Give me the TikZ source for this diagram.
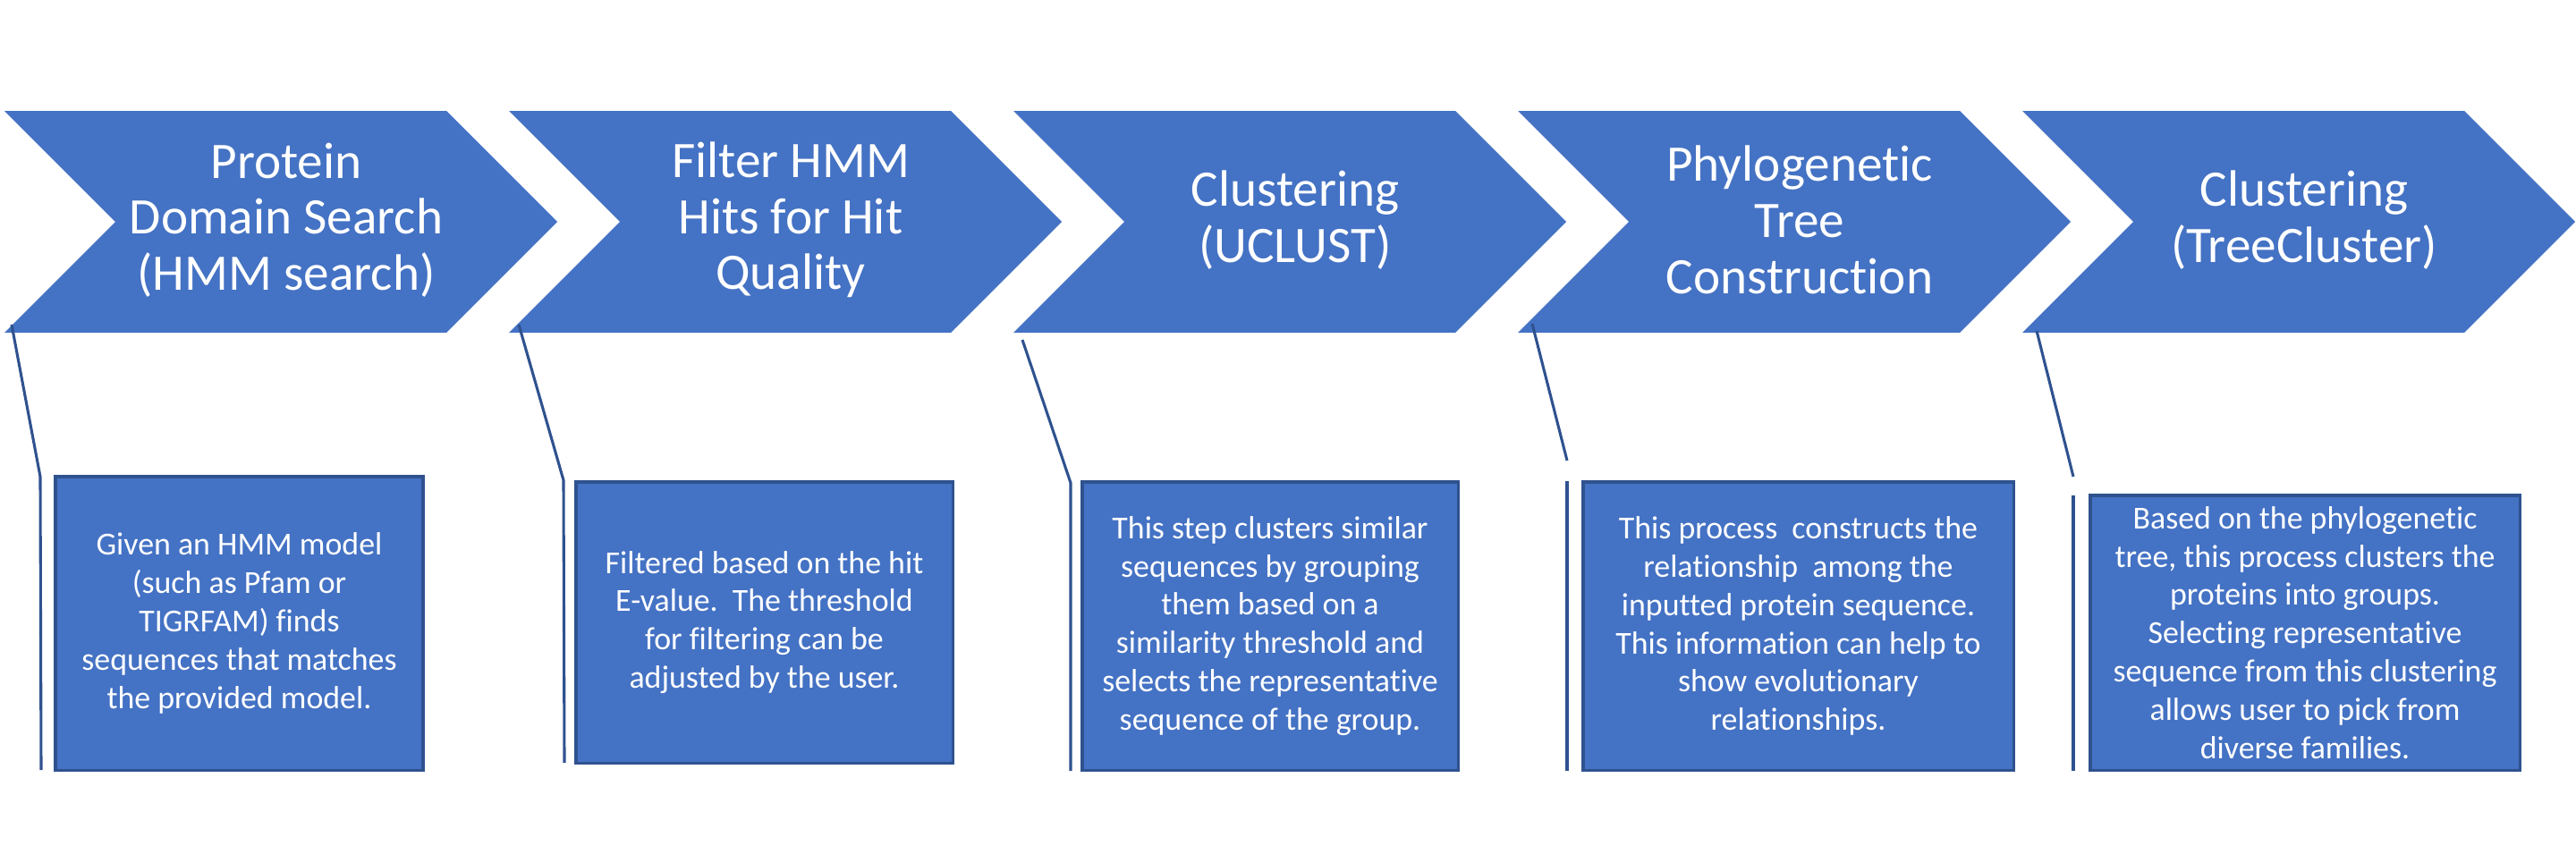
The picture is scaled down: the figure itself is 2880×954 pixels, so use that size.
\documentclass[tikz,border=0pt]{standalone}
\usepackage{fontspec}
\setmainfont[Ligatures=CommonOff]{Carlito}
\definecolor{fillblue}{HTML}{4472C4}
\definecolor{edgeblue}{HTML}{2F528F}
\newcommand\pxu{0.025cm}
\tikzset{
  chevshape/.style={fill=fillblue, draw=none},
  headtxt/.style={text=white, align=center, inner sep=0pt,
    font=\fontsize{40.7pt}{44.6pt}\selectfont},
  descbox/.style={draw=edgeblue, fill=fillblue, line width=2.5pt, text=white,
    align=center, inner sep=0pt, font=\fontsize{25.5pt}{30.5pt}\selectfont},
  callout/.style={draw=edgeblue, line width=2.2pt}
}
\begin{document}
\begin{tikzpicture}[x=0.025cm, y=-0.025cm]
\useasboundingbox (0,0) rectangle (2880,954);

% chevrons
\foreach \k in {0,...,4} {
  \pgfmathsetmacro{\L}{5+564*\k}
  \fill[chevshape] (\L,124) -- (\L+494,124) -- (\L+618,248) -- (\L+494,372)
    -- (\L,372) -- (\L+124,248) -- cycle;
}

% chevron titles
\node[headtxt] (h1) at (320,246) {Protein\\Domain Search\\(HMM search)};
\node[headtxt] (h2) at (884,246) {Filter HMM\\Hits for Hit\\Quality};
\node[headtxt] (h3) at (1448,246) {Clustering\\(UCLUST)};
\node[headtxt] (h4) at (2012,246) {Phylogenetic\\Tree\\Construction};
\node[headtxt] (h5) at (2576,246) {Clustering\\(TreeCluster)};

% description boxes
\node[descbox, minimum width=411.5*\pxu, minimum height=328.5*\pxu] (b1) at (267.5,697)
  {Given an HMM model\\(such as Pfam or\\TIGRFAM) finds\\sequences that matches\\the provided model.};
\node[descbox, minimum width=421.5*\pxu, minimum height=314.5*\pxu] (b2) at (854.5,696)
  {Filtered based on the hit\\E-value.~~The threshold\\for filtering can be\\adjusted by the user.};
\node[descbox, minimum width=420.5*\pxu, minimum height=322.5*\pxu] (b3) at (1420,700)
  {This step clusters similar\\sequences by grouping\\them based on a\\similarity threshold and\\selects the representative\\sequence of the group.};
\node[descbox, minimum width=481.5*\pxu, minimum height=322.5*\pxu] (b4) at (2010.5,700)
  {This process~~constructs the\\relationship~~among the\\inputted protein sequence.\\This information can help to\\show evolutionary\\relationships.};
\node[descbox, minimum width=480.5*\pxu, minimum height=307.5*\pxu] (b5) at (2577,707.5)
  {Based on the phylogenetic\\tree, this process clusters the\\proteins into groups.\\Selecting representative\\sequence from this clustering\\allows user to pick from\\diverse families.};

% callout line points
\coordinate (s1) at (13,363);   \coordinate (m1) at (45,533);   \coordinate (e1) at (46,861);
\coordinate (s2) at (580,363);  \coordinate (m2) at (630,537);  \coordinate (e2) at (631,853);
\coordinate (s3) at (1143,380); \coordinate (m3) at (1197,540); \coordinate (e3) at (1197,862);
\coordinate (s4) at (1713,362); \coordinate (m4) at (1752,515);
\coordinate (t4) at (1752,538); \coordinate (e4) at (1752,862);
\coordinate (s5) at (2277,370); \coordinate (m5) at (2318,533);
\coordinate (t5) at (2318,554); \coordinate (e5) at (2318,862);

\draw[callout] (s1) -- (m1) -- (e1);
\draw[callout] (s2) -- (m2) -- (e2);
\draw[callout] (s3) -- (m3) -- (e3);
\draw[callout] (s4) -- (m4);
\draw[callout] (t4) -- (e4);
\draw[callout] (s5) -- (m5);
\draw[callout] (t5) -- (e5);
\end{tikzpicture}
\end{document}
